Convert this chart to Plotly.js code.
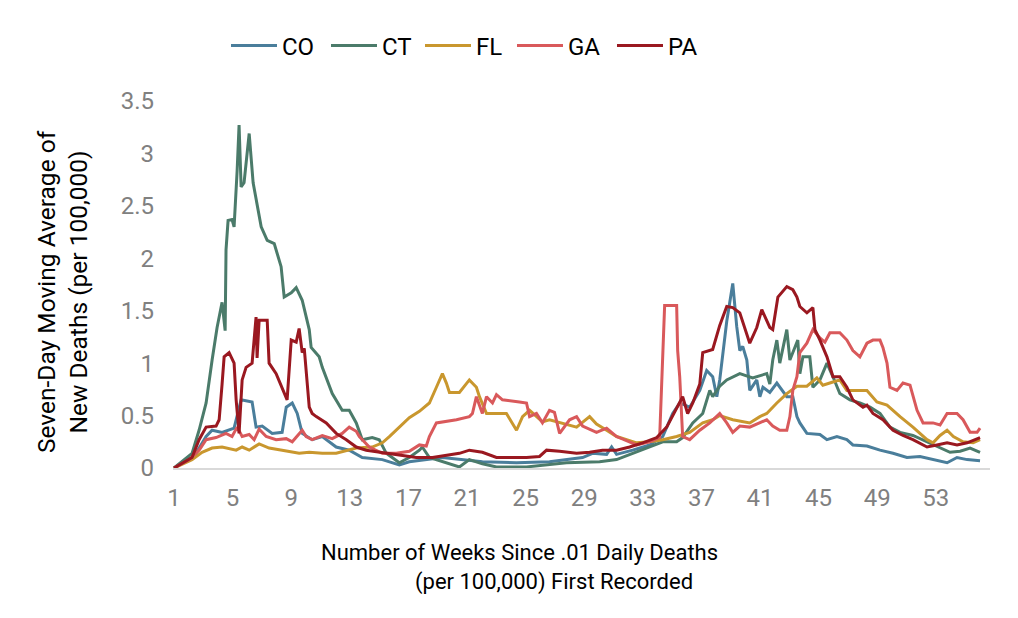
<!DOCTYPE html>
<html>
<head>
<meta charset="utf-8">
<script src="https://cdn.plot.ly/plotly-3.0.1.min.js"></script>
<style>html,body{margin:0;padding:0;background:#fff;}#chart{width:1018px;height:618px;}</style>
</head>
<body>
<div id="chart"></div>
<script>
// ---- Data ----
const seriesNames = ["CO", "CT", "FL", "GA", "PA"];
const weekTicks = [1, 5, 9, 13, 17, 21, 25, 29, 33, 37, 41, 45, 49, 53];
const yTicks = [0, 0.5, 1, 1.5, 2, 2.5, 3, 3.5];

const coWeeks = [1,2.5,3.19,3.6,4.28,5.1,5.58,6.33,6.6,7.02,7.7,8.38,8.66,9.07,9.41,9.75,10.43,11.12,12.07,12.96,13.85,15.22,16.38,17.06,19.32,22.05,24.38,26.63,28.89,29.57,30.53,30.87,31.21,32.31,33.47,34.36,35.04,35.52,36.2,36.89,37.36,37.77,38.05,38.25,38.73,39.14,39.41,39.62,39.82,40.1,40.3,40.78,40.99,41.2,41.67,42.15,42.83,43.24,43.52,43.72,44.2,45.09,45.57,46.25,46.93,47.34,48.3,49.19,50.08,51.03,51.92,52.81,53.77,54.45,55.14,56.02];
const coValues = [0,0.14,0.30,0.36,0.34,0.38,0.65,0.63,0.39,0.40,0.33,0.34,0.58,0.62,0.52,0.33,0.27,0.30,0.20,0.17,0.10,0.08,0.03,0.06,0.10,0.06,0.05,0.06,0.10,0.14,0.13,0.20,0.13,0.17,0.22,0.30,0.52,0.62,0.58,0.74,0.93,0.87,0.68,0.84,1.40,1.76,1.35,1.12,1.16,1.03,0.74,0.84,0.68,0.77,0.72,0.81,0.68,0.68,0.49,0.43,0.33,0.32,0.27,0.30,0.27,0.22,0.21,0.17,0.14,0.10,0.11,0.08,0.05,0.10,0.08,0.07];

const ctWeeks = [1,2.23,2.71,3.19,3.6,3.94,4.28,4.49,4.55,4.69,4.96,5.1,5.31,5.44,5.58,5.78,6.13,6.4,6.95,7.36,7.84,8.31,8.52,9.0,9.34,9.75,10.23,10.36,10.91,11.12,11.8,12.48,12.96,13.44,13.85,14.53,15.01,15.49,16.38,17.06,17.75,17.95,18.43,19.32,20.48,21.16,22.05,23.01,25.06,27.79,30.05,31.21,32.31,33.47,34.36,35.31,35.72,36.41,37.09,37.57,37.77,38.25,38.73,39.62,40.5,41.46,41.67,41.87,42.15,42.35,42.83,43.04,43.58,43.72,43.93,44.4,44.61,45.09,45.57,45.98,46.45,47.14,47.82,48.51,49.19,49.87,50.56,51.44,52.4,53.29,53.97,54.66,55.34,56.02];
const ctValues = [0,0.14,0.36,0.62,1.03,1.34,1.58,1.31,2.08,2.36,2.37,2.30,2.84,3.27,2.68,2.72,3.19,2.72,2.30,2.17,2.14,1.92,1.63,1.67,1.72,1.60,1.32,1.15,1.06,0.96,0.71,0.55,0.55,0.43,0.27,0.29,0.27,0.14,0.05,0.10,0.17,0.20,0.10,0.06,0.01,0.08,0.04,0.01,0.01,0.05,0.06,0.08,0.14,0.20,0.25,0.25,0.29,0.43,0.52,0.74,0.68,0.78,0.84,0.90,0.86,0.90,0.80,1.03,1.22,1.00,1.32,1.03,1.22,0.90,1.06,1.06,0.77,0.84,1.00,0.87,0.71,0.65,0.62,0.58,0.52,0.39,0.34,0.31,0.25,0.20,0.15,0.16,0.19,0.15];

const flWeeks = [1,2.23,2.91,3.6,4.28,5.24,5.65,6.13,6.81,7.49,8.38,9.54,10.23,11.12,12.07,13.44,14.53,15.22,15.7,16.38,17.06,17.75,18.43,18.91,19.32,19.59,19.8,20.48,21.16,21.64,21.85,22.33,23.69,24.38,24.79,25.27,26.15,26.63,28.48,29.37,29.84,30.53,31.21,32.58,33.47,34.36,35.31,36.2,37.09,37.77,38.25,39.14,40.3,40.99,41.46,42.15,42.83,43.52,44.2,44.88,45.29,45.98,46.45,46.93,48.3,48.98,49.67,50.56,51.44,52.4,52.81,53.29,53.77,54.2,54.86,55.55,56.02];
const flValues = [0,0.08,0.15,0.19,0.20,0.17,0.20,0.17,0.23,0.19,0.17,0.14,0.15,0.14,0.14,0.19,0.20,0.24,0.30,0.39,0.48,0.54,0.62,0.77,0.90,0.81,0.72,0.72,0.84,0.77,0.68,0.52,0.52,0.36,0.49,0.55,0.44,0.46,0.39,0.49,0.42,0.36,0.30,0.24,0.25,0.27,0.30,0.34,0.43,0.46,0.50,0.46,0.43,0.49,0.52,0.62,0.71,0.78,0.78,0.86,0.79,0.82,0.84,0.74,0.74,0.63,0.60,0.49,0.39,0.27,0.24,0.31,0.36,0.30,0.25,0.24,0.27];

const gaWeeks = [1,2.03,2.71,3.19,3.87,4.55,4.96,5.31,5.65,6.13,6.47,6.81,7.29,7.97,8.66,9.07,9.75,10.02,10.43,11.12,11.8,12.48,12.96,13.44,13.65,14.33,15.22,16.17,17.06,17.75,18.22,18.43,18.91,19.32,20.28,21.16,21.37,21.64,22.05,22.33,22.74,23.01,23.42,24.58,25.06,25.27,25.74,26.15,26.63,26.97,27.32,28.0,28.48,28.89,29.84,30.53,31.21,32.58,33.47,34.15,34.49,35.31,35.38,35.52,35.72,36.2,36.89,37.57,38.25,38.73,39.14,39.62,40.3,41.46,41.87,42.35,42.83,43.04,43.24,43.52,43.72,44.2,44.61,45.09,45.43,45.77,46.45,46.93,47.34,47.82,48.3,48.71,49.19,49.39,49.67,49.87,50.35,50.76,51.24,51.72,52.13,52.81,53.29,53.77,54.45,54.86,55.34,55.82,56.02];
const gaValues = [0,0.08,0.17,0.27,0.29,0.33,0.30,0.39,0.30,0.32,0.27,0.37,0.30,0.27,0.28,0.25,0.36,0.30,0.27,0.31,0.28,0.33,0.39,0.35,0.30,0.20,0.14,0.14,0.16,0.22,0.21,0.30,0.43,0.44,0.46,0.49,0.52,0.68,0.52,0.68,0.62,0.70,0.65,0.63,0.62,0.49,0.52,0.43,0.55,0.53,0.33,0.46,0.49,0.40,0.34,0.38,0.30,0.22,0.25,0.29,1.55,1.55,1.12,0.87,0.30,0.27,0.36,0.43,0.52,0.43,0.34,0.40,0.39,0.46,0.40,0.36,0.36,0.49,0.74,0.87,1.10,1.19,1.32,1.24,1.20,1.29,1.29,1.22,1.12,1.06,1.19,1.22,1.22,1.15,1.00,0.77,0.74,0.81,0.79,0.55,0.43,0.43,0.41,0.52,0.52,0.46,0.34,0.34,0.38];

const paWeeks = [1,2.23,2.71,3.19,3.87,4.08,4.28,4.42,4.76,5.1,5.24,5.44,5.65,5.92,6.33,6.6,6.67,6.81,7.36,7.49,7.97,8.38,8.72,9.0,9.34,9.54,9.75,9.89,10.23,10.43,10.71,11.39,12.07,12.76,13.44,14.12,15.7,17.54,18.64,20.48,21.16,22.05,23.01,25.06,25.95,26.43,27.32,28.48,29.37,30.25,31.21,32.1,32.99,33.95,34.63,35.31,35.72,36.06,36.41,36.89,37.09,37.77,38.25,38.73,39.14,39.62,39.82,40.3,40.78,41.12,41.67,41.87,42.22,42.83,43.24,43.52,43.72,44.2,44.61,44.75,45.09,45.57,45.98,46.45,46.93,47.34,48.03,48.3,48.71,49.39,50.08,50.76,51.44,52.4,53.08,53.77,54.45,55.14,56.02];
const paValues = [0,0.10,0.27,0.39,0.40,0.46,0.80,1.06,1.10,1.00,0.65,0.33,0.84,0.96,1.00,1.44,1.05,1.41,1.41,1.00,0.90,0.77,0.65,1.22,1.20,1.33,1.10,1.14,0.58,0.52,0.49,0.43,0.33,0.27,0.20,0.17,0.14,0.10,0.10,0.14,0.17,0.15,0.10,0.10,0.11,0.17,0.16,0.14,0.15,0.17,0.17,0.20,0.24,0.29,0.39,0.58,0.68,0.52,0.62,0.80,1.10,1.13,1.36,1.54,1.53,1.48,1.39,1.19,1.34,1.51,1.34,1.32,1.63,1.73,1.70,1.63,1.54,1.48,1.53,1.32,1.22,1.06,0.87,0.87,0.77,0.65,0.58,0.60,0.52,0.46,0.36,0.31,0.27,0.20,0.22,0.24,0.22,0.24,0.29];

// ---- Styles ----
const seriesColors = ["#4a7e9b", "#4b7b6a", "#c9972e", "#d9595b", "#9a1820"];
const legendWidths = [39, 33, 31, 39, 39];

// ---- Build traces ----
const allWeeks = [coWeeks, ctWeeks, flWeeks, gaWeeks, paWeeks];
const allValues = [coValues, ctValues, flValues, gaValues, paValues];
const traces = seriesNames.map((name, i) => ({
  type: "scatter",
  mode: "lines",
  name: name,
  x: allWeeks[i],
  y: allValues[i],
  line: { color: seriesColors[i], width: 3 },
  legendwidth: legendWidths[i],
  hoverinfo: "skip"
}));

const FONT = "Roboto, 'Open Sans', Arial, sans-serif";
const layout = {
  width: 1018,
  height: 618,
  paper_bgcolor: "#ffffff",
  plot_bgcolor: "#ffffff",
  margin: { l: 173, r: 28, t: 101, b: 150, pad: 0 },
  font: { family: FONT, color: "#000000" },
  showlegend: true,
  legend: {
    orientation: "h",
    xref: "container", yref: "container",
    x: 0.222, xanchor: "left",
    y: 0.962, yanchor: "top",
    font: { family: FONT, size: 24, color: "#000000" },
    itemwidth: 46,
    bgcolor: "rgba(0,0,0,0)",
    traceorder: "normal"
  },
  xaxis: {
    type: "linear",
    range: [0.93, 56.7],
    tickvals: weekTicks,
    ticktext: weekTicks.map(String),
    showgrid: false,
    zeroline: false,
    showline: true,
    linecolor: "#d9d9d9",
    linewidth: 1.5,
    ticks: "",
    ticklabelstandoff: 8,
    tickfont: { family: FONT, size: 24, color: "#808080" }
  },
  yaxis: {
    range: [0, 3.5],
    tickvals: yTicks,
    ticktext: yTicks.map(String),
    showgrid: false,
    zeroline: false,
    showline: false,
    ticks: "",
    ticklabelstandoff: 18,
    tickfont: { family: FONT, size: 24, color: "#808080" }
  },
  annotations: [
    {
      text: "Seven-Day Moving Average of<br>New Deaths (per 100,000)",
      xref: "paper", yref: "paper",
      x: -0.1346, y: 0.4796,
      xanchor: "center", yanchor: "middle",
      textangle: -90,
      showarrow: false,
      align: "center",
      font: { family: FONT, size: 24.5, color: "#000000" }
    },
    {
      text: "Number of Weeks Since .01 Daily Deaths",
      xref: "paper", yref: "paper",
      x: 0.4247, y: -0.2316,
      xanchor: "center", yanchor: "middle",
      showarrow: false,
      font: { family: FONT, size: 22, color: "#000000" }
    },
    {
      text: "(per 100,000) First Recorded",
      xref: "paper", yref: "paper",
      x: 0.4663, y: -0.3106,
      xanchor: "center", yanchor: "middle",
      showarrow: false,
      font: { family: FONT, size: 22, color: "#000000" }
    }
  ]
};

Plotly.newPlot("chart", traces, layout, { displayModeBar: false, staticPlot: true });
</script>
</body>
</html>
